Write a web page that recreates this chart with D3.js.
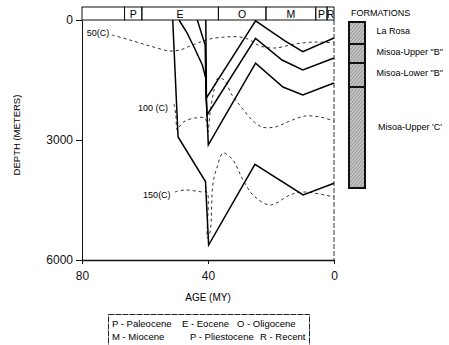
<!DOCTYPE html>
<html>
<head>
<meta charset="utf-8">
<script src="https://cdn.jsdelivr.net/npm/d3@7"></script>
<style>
  body { margin: 0; background: #fff; }
  svg { font-family: "Liberation Sans", Arial, Helvetica, sans-serif; }
</style>
</head>
<body>
<div id="chart"></div>
<script>
// geologic epochs along the top bar (MY)
const epochs = [
    { label: "", from: 80, to: 66.5 },
    { label: "P", from: 66.5, to: 61 },
    { label: "E", from: 61, to: 36.7 },
    { label: "O", from: 36.7, to: 21.6 },
    { label: "M", from: 21.6, to: 5.8 },
    { label: "P", from: 5.8, to: 2.2 },
    { label: "R", from: 2.2, to: 0 }
];

// burial curves: [age MY, depth m]
const burialD = [[40.7, 0], [40.5, 1950], [24.9, 20], [15.6, 520], [9.9, 790], [0, 450]];
const burialC = [[43.4, 0], [40.9, 625], [40.6, 1950], [40.3, 2375], [24.9, 460], [16.5, 1000], [9.9, 1250], [0, 950]];
const burialB = [[49.2, 0], [46.8, 300], [44.3, 700], [41.8, 1125], [40.7, 1450], [40.5, 1950], [40.3, 2375],
    [39.9, 3125], [24.9, 1080], [16.2, 1675], [9.9, 1875], [0, 1575]];
const burialA = [[51.2, 0], [49.5, 2925], [40.8, 4040], [39.8, 5625], [25.1, 3610], [9.8, 4375], [0, 4080]];

// isotherms: [age MY, depth m]
const iso50 = [[70.5, 375], [64.8, 500], [58.4, 650], [52.1, 775], [48.9, 750], [45.7, 650], [42.5, 550],
    [39.4, 475], [34.6, 425], [29.8, 425], [26.7, 500], [23.5, 650], [18.7, 700], [12.4, 600], [6.0, 550], [0, 575]];
const iso100 = [[50.8, 2100], [50.2, 2375], [49.8, 2750], [48.9, 2650], [47.3, 2525], [44.1, 2450], [41.0, 2450],
    [40.3, 2625], [40.0, 2800], [39.4, 2375], [38.4, 1875], [36.8, 1450], [34.9, 1500], [32.4, 1875], [29.2, 2200],
    [26.0, 2500], [22.9, 2675], [18.7, 2675], [14.0, 2525], [9.2, 2400], [4.4, 2425], [0, 2525]];
const iso150 = [[50.5, 4300], [47.3, 4250], [41.6, 4300], [40.3, 4300], [40.2, 5450], [39.4, 5325], [38.4, 4075],
    [37.1, 3675], [35.2, 3325], [32.1, 3500], [29.2, 3950], [25.7, 4375], [20.3, 4625], [14.0, 4375], [9.8, 4300], [0, 4425]];

const isoLabels = [
    { text: "50(C)", age: 78.5, depth: 325 },
    { text: "100 (C)", age: 62.2, depth: 2200 },
    { text: "150(C)", age: 60.6, depth: 4375 }
];

const xTicks = [80, 40, 0];
const yTicks = [0, 3000, 6000];

const formations = ["La Rosa", "Misoa-Upper \"B\"", "Misoa-Lower \"B\"", "Misoa-Upper 'C'"];
const formationThickness = [22, 19, 24, 101];

const epochKey = [
    ["P - Paleocene", "E - Eocene", "O - Oligocene"],
    ["M - Miocene", "P - Pliestocene", "R - Recent"]
];

const width = 449;
const height = 345;

const svg = d3.select("#chart").append("svg")
    .attr("width", width)
    .attr("height", height);

const x = d3.scaleLinear().domain([80, 0]).range([82, 334]);
const y = d3.scaleLinear().domain([0, 6000]).range([20, 260]);

// hatch pattern for the formation column
const pat = svg.append("defs").append("pattern")
    .attr("id", "hatch")
    .attr("patternUnits", "userSpaceOnUse")
    .attr("width", 2.5)
    .attr("height", 2.5)
    .attr("patternTransform", "rotate(40)");
pat.append("rect").attr("width", 2.5).attr("height", 2.5).attr("fill", "#c4c4c4");
pat.append("line").attr("x1", 0).attr("y1", 0).attr("x2", 0).attr("y2", 2.5)
    .attr("stroke", "#6e6e6e").attr("stroke-width", 0.9);

// top epoch bar
const bar = svg.append("g");
bar.selectAll("rect")
    .data(epochs)
    .join("rect")
    .attr("x", d => x(d.from))
    .attr("y", 7)
    .attr("width", d => x(d.to) - x(d.from))
    .attr("height", 13)
    .attr("fill", "none")
    .attr("stroke", "#111")
    .attr("stroke-width", 1);
bar.selectAll("text")
    .data(epochs)
    .join("text")
    .attr("x", d => (x(d.from) + x(d.to)) / 2)
    .attr("y", 14)
    .attr("text-anchor", "middle")
    .attr("dominant-baseline", "central")
    .attr("font-size", 10.5)
    .text(d => d.label);

// right frame (dashed look)
svg.append("line")
    .attr("x1", x(0)).attr("x2", x(0))
    .attr("y1", y(0)).attr("y2", y(6000))
    .attr("stroke", "#333")
    .attr("stroke-dasharray", "5,2");

// axes
const yAxis = svg.append("g")
    .attr("transform", `translate(${x(80)},0)`)
    .call(d3.axisLeft(y).tickValues(yTicks).tickFormat(d3.format("d"))
        .tickSize(6).tickSizeOuter(0).tickPadding(3));
const xAxis = svg.append("g")
    .attr("transform", `translate(0,${y(6000)})`)
    .call(d3.axisBottom(x).tickValues(xTicks).tickSize(4).tickSizeOuter(0).tickPadding(7));
[xAxis, yAxis].forEach(g => {
    g.selectAll("text").attr("font-size", 12).attr("fill", "#111")
        .attr("font-family", "\"Liberation Sans\", Arial, sans-serif");
    g.selectAll("line").attr("stroke", "#111");
    g.select(".domain").attr("stroke", "#111");
});
yAxis.select(".domain").attr("stroke-width", 1);
xAxis.select(".domain").attr("stroke-width", 1.4);

svg.append("text")
    .attr("transform", `translate(16,135) rotate(-90)`)
    .attr("text-anchor", "middle")
    .attr("dominant-baseline", "central")
    .attr("font-size", 9.5)
    .text("DEPTH (METERS)");

svg.append("text")
    .attr("x", (x(80) + x(0)) / 2)
    .attr("y", 297)
    .attr("text-anchor", "middle")
    .attr("dominant-baseline", "central")
    .attr("font-size", 10)
    .text("AGE (MY)");

// isotherms
const smooth = d3.line()
    .x(d => x(d[0]))
    .y(d => y(d[1]))
    .curve(d3.curveCatmullRom.alpha(0.5));
[iso50, iso100, iso150].forEach(s => {
    svg.append("path")
        .datum(s)
        .attr("fill", "none")
        .attr("stroke", "#333")
        .attr("stroke-width", 1)
        .attr("stroke-dasharray", "3,3")
        .attr("d", smooth);
});
svg.selectAll(".isolab")
    .data(isoLabels)
    .join("text")
    .attr("class", "isolab")
    .attr("x", d => x(d.age))
    .attr("y", d => y(d.depth))
    .attr("dominant-baseline", "central")
    .attr("font-size", 9)
    .text(d => d.text);

// burial curves
const line = d3.line()
    .x(d => x(d[0]))
    .y(d => y(d[1]));
[burialA, burialB, burialC, burialD].forEach(s => {
    svg.append("path")
        .datum(s)
        .attr("fill", "none")
        .attr("stroke", "#000")
        .attr("stroke-width", 1.5)
        .attr("stroke-linejoin", "miter")
        .attr("d", line);
});

// formations column
svg.append("text")
    .attr("x", 351)
    .attr("y", 13)
    .attr("dominant-baseline", "central")
    .attr("font-size", 9)
    .text("FORMATIONS");

const cum = [0];
formationThickness.forEach(t => cum.push(cum[cum.length - 1] + t));
const fy = d3.scaleLinear().domain([0, d3.sum(formationThickness)]).range([22, 188]);
const col = svg.append("g");
col.selectAll("rect")
    .data(formations)
    .join("rect")
    .attr("x", 349)
    .attr("y", (d, i) => fy(cum[i]))
    .attr("width", 16)
    .attr("height", (d, i) => fy(cum[i + 1]) - fy(cum[i]))
    .attr("fill", "url(#hatch)")
    .attr("stroke", "#111")
    .attr("stroke-width", 2);
col.selectAll("text")
    .data(formations)
    .join("text")
    .attr("x", (d, i) => i === 3 ? 378 : 376.5)
    .attr("y", (d, i) => fy(cum[i]) + (fy(cum[i + 1]) - fy(cum[i])) * 0.4)
    .attr("dominant-baseline", "central")
    .attr("font-size", 9)
    .text(d => d);

// epoch key box
svg.append("rect")
    .attr("x", 108.5)
    .attr("y", 314.5)
    .attr("width", 201)
    .attr("height", 34)
    .attr("fill", "none")
    .attr("stroke", "#222")
    .attr("stroke-width", 1)
    .attr("stroke-dasharray", "6,1");
const keyCols = [[112, 182, 237], [112, 190, 260]];
epochKey.forEach((row, r) => {
    row.forEach((t, c) => {
        svg.append("text")
            .attr("x", keyCols[r][c])
            .attr("y", 323 + r * 13.5)
            .attr("dominant-baseline", "central")
            .attr("font-size", 9.5)
            .text(t);
    });
});
</script>
</body>
</html>
